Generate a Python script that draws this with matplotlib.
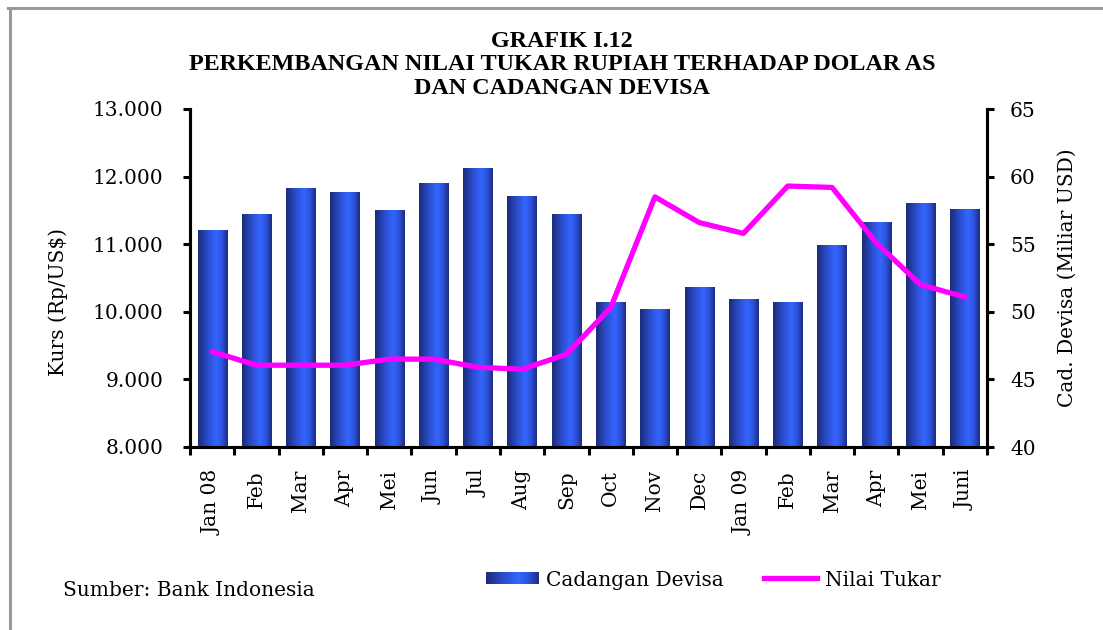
import matplotlib
matplotlib.use('Agg')
import matplotlib.pyplot as plt
import numpy as np
from matplotlib.colors import LinearSegmentedColormap
from matplotlib.ticker import FuncFormatter, FixedLocator
from matplotlib.lines import Line2D
from matplotlib.patches import Rectangle
from matplotlib.legend_handler import HandlerBase
from matplotlib.image import BboxImage
from matplotlib.transforms import Bbox, TransformedBbox

# Data
months = ['Jan 08', 'Feb', 'Mar', 'Apr', 'Mei', 'Jun', 'Jul', 'Aug', 'Sep',
          'Oct', 'Nov', 'Dec', 'Jan 09', 'Feb', 'Mar', 'Apr', 'Mei', 'Juni']
cadangan = [56.0, 57.2, 59.1, 58.8, 57.5, 59.5, 60.6, 58.5, 57.2,
            50.7, 50.2, 51.8, 50.9, 50.7, 54.9, 56.6, 58.0, 57.6]
kurs = [9410, 9210, 9210, 9210, 9300, 9300, 9180, 9150, 9370,
        10060, 11700, 11320, 11160, 11860, 11840, 11020, 10400, 10220]

plt.rcParams['font.family'] = 'DejaVu Serif'
fs = 14.5

# horizontal gradient used for the bars (dark edges, bright middle)
bar_cmap = LinearSegmentedColormap.from_list('bar', [
    (0.00, '#1b2b78'), (0.30, '#2a4bc8'), (0.62, '#3366ff'),
    (0.82, '#2c50d8'), (1.00, '#1c2d80')])
grad = np.linspace(0, 1, 64).reshape(1, -1)

fig = plt.figure(figsize=(11.03, 6.30), dpi=100)
ax = fig.add_axes([190 / 1103, 1 - 447 / 630, 797 / 1103, 338 / 630])
ax2 = ax.twinx()
ax.set_zorder(ax2.get_zorder() + 1)
ax.patch.set_visible(False)

x = np.arange(len(months))
w = 0.66
for xi, v in zip(x, cadangan):
    ax2.imshow(grad, cmap=bar_cmap, aspect='auto', interpolation='bicubic',
               extent=(xi - w / 2, xi + w / 2, 40, v), zorder=2)

ax.plot(x, kurs, color='#ff00ff', lw=3.8, solid_capstyle='round', zorder=3)

ax.set_xlim(-0.5, len(months) - 0.5)
ax.set_ylim(8000, 13000)
ax2.set_ylim(40, 65)
ax2.set_xlim(-0.5, len(months) - 0.5)

ax.yaxis.set_major_formatter(FuncFormatter(lambda v, p: f'{int(v):,}'.replace(',', '.')))
ax.set_yticks(np.arange(8000, 13001, 1000))
ax2.set_yticks(np.arange(40, 66, 5))

ax.set_xticks(x)
ax.set_xticklabels(months, rotation=90, fontsize=fs)
ax.xaxis.set_minor_locator(FixedLocator(np.arange(-0.5, len(months), 1)))
ax.tick_params(axis='x', which='major', length=0, pad=16.5)
ax.tick_params(axis='x', which='minor', length=5.5, width=2.2, direction='out')
ax.tick_params(axis='y', length=5, width=2.2, labelsize=fs, pad=14)
ax2.tick_params(axis='y', length=5, width=2.2, labelsize=fs, pad=11.5)
ax2.tick_params(axis='x', length=0, labelbottom=False)

for a in (ax, ax2):
    a.spines['top'].set_visible(False)
    for s in ('left', 'right', 'bottom'):
        a.spines[s].set_linewidth(2.2)

ax.set_ylabel('Kurs (Rp/US$)', fontsize=fs)
ax.yaxis.set_label_coords((68 - 190) / 797, (447 - 302) / 338)
ax2.set_ylabel('Cad. Devisa (Miliar USD)', fontsize=fs)
ax2.yaxis.set_label_coords((1058 - 190) / 797, 0.5)

# title
fig.text(562 / 1103, 1 - 65 / 630, 'GRAFIK I.12\nPERKEMBANGAN NILAI TUKAR RUPIAH TERHADAP DOLAR AS\nDAN CADANGAN DEVISA',
         ha='center', va='center', family='Liberation Serif', fontweight='bold',
         fontsize=17.4, linespacing=1.17)

fig.text(63 / 1103, 1 - 590 / 630, 'Sumber: Bank Indonesia', fontsize=fs, va='center')


class HandlerGradient(HandlerBase):
    def create_artists(self, legend, orig_handle, xdescent, ydescent,
                       width, height, fontsize, trans):
        bb = Bbox.from_bounds(-xdescent, -ydescent + height * 0.1, width, height * 0.8)
        img = BboxImage(TransformedBbox(bb, trans), cmap=bar_cmap,
                        interpolation='bicubic')
        img.set_data(grad)
        return [img]


bar_proxy = Rectangle((0, 0), 1, 1)
line_proxy = Line2D([], [], color='#ff00ff', lw=3.8)
fig.legend([bar_proxy, line_proxy], ['Cadangan Devisa', 'Nilai Tukar'],
           handler_map={Rectangle: HandlerGradient()},
           loc='center', bbox_to_anchor=(713 / 1103, 1 - 580 / 630), ncol=2,
           frameon=False, fontsize=fs, handlelength=2.6, handletextpad=0.4,
           columnspacing=2.0)

# gray frame lines (top and left)
fig.add_artist(Line2D([8 / 1103, 1], [1 - 7.5 / 630, 1 - 7.5 / 630], color='#999999', lw=2.2))
fig.add_artist(Line2D([9.5 / 1103, 9.5 / 1103], [0, 1 - 7.5 / 630], color='#999999', lw=2.2))

fig.savefig('out.png', dpi=100)
